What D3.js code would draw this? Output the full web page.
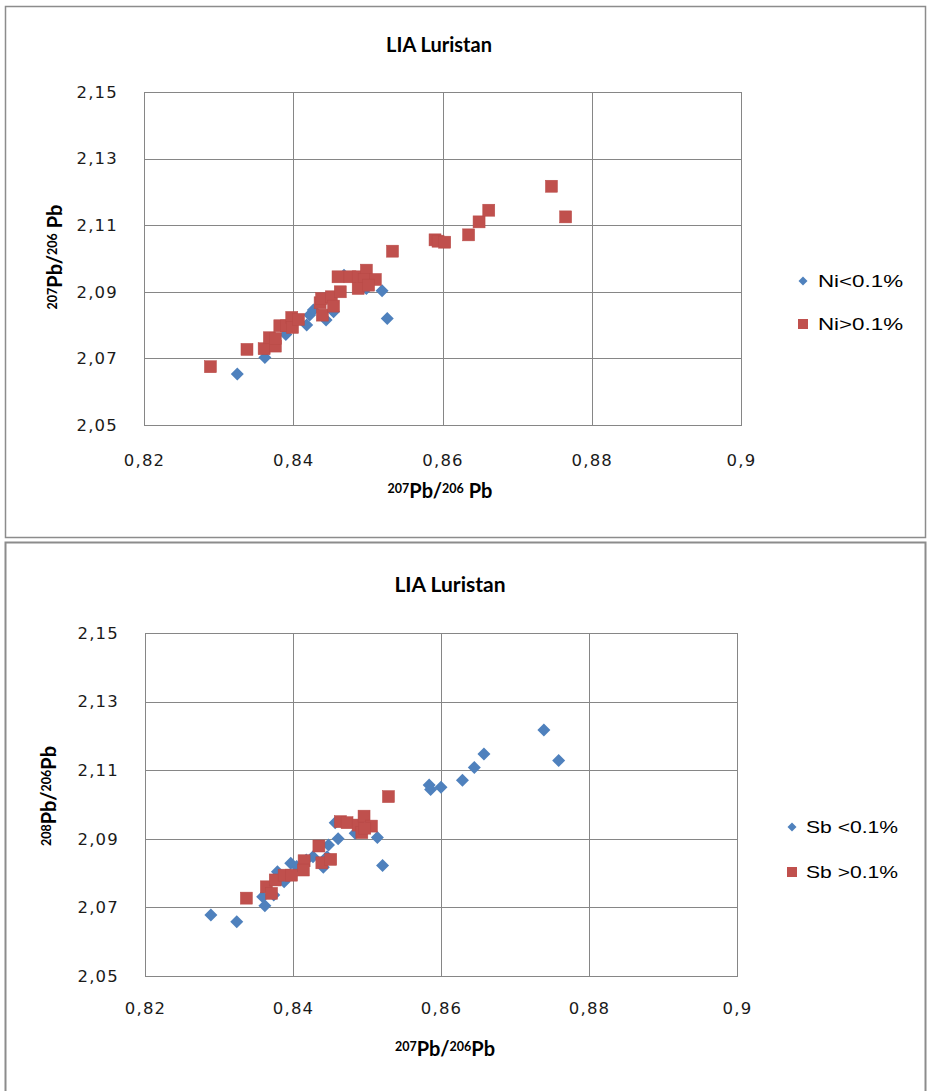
<!DOCTYPE html>
<html><head><meta charset="utf-8">
<script src="https://cdn.jsdelivr.net/npm/d3@7"></script>
<style>html,body{margin:0;padding:0;background:#fff;}svg{display:block;}</style>
</head><body>
<svg id="c" width="928" height="1091"></svg>
<script>
// ---- data ----
const xTicks = [0.82, 0.84, 0.86, 0.88, 0.9];
const yTicks = [2.05, 2.07, 2.09, 2.11, 2.13, 2.15];
const chartTitle = "LIA Luristan";

// Panel 1: Ni
const niLow = [
  [0.8325,2.0653],[0.8362,2.0703],[0.8390,2.0772],[0.8418,2.0800],[0.8422,2.0830],
  [0.8427,2.0845],[0.8444,2.0815],[0.8454,2.0840],[0.8468,2.0950],[0.8498,2.0910],
  [0.8519,2.0903],[0.8526,2.0820]
];
const niHigh = [
  [0.8289,2.0675],[0.8338,2.0727],[0.8361,2.0729],[0.8368,2.0762],[0.8376,2.0737],
  [0.8376,2.0760],[0.8382,2.0798],[0.8391,2.0798],[0.8398,2.0823],[0.8399,2.0793],
  [0.8407,2.0817],[0.8436,2.0867],[0.8439,2.0830],[0.8438,2.0880],[0.8451,2.0885],
  [0.8454,2.0857],[0.8463,2.0900],[0.8460,2.0945],[0.8476,2.0945],[0.8487,2.0945],
  [0.8498,2.0965],[0.8495,2.0937],[0.8510,2.0937],[0.8487,2.0910],[0.8501,2.0920],
  [0.8533,2.1022],[0.8590,2.1056],[0.8594,2.1052],[0.8603,2.1049],[0.8635,2.1071],
  [0.8649,2.1110],[0.8662,2.1145],[0.8746,2.1217],[0.8765,2.1125]
];

// Panel 2: Sb
const sbLow = [
  [0.8289,2.0678],[0.8324,2.0658],[0.8362,2.0705],[0.8359,2.0731],[0.8374,2.0736],
  [0.8379,2.0804],[0.8388,2.0775],[0.8397,2.0829],[0.8405,2.0819],[0.8418,2.0838],
  [0.8427,2.0848],[0.8441,2.0817],[0.8448,2.0882],[0.8446,2.0848],[0.8461,2.0900],
  [0.8457,2.0947],[0.8484,2.0916],[0.8514,2.0904],[0.8521,2.0822],[0.8584,2.1057],
  [0.8586,2.1044],[0.8600,2.1050],[0.8629,2.1071],[0.8645,2.1108],[0.8658,2.1147],
  [0.8739,2.1217],[0.8759,2.1128]
];
const sbHigh = [
  [0.8337,2.0727],[0.8364,2.0760],[0.8371,2.0741],[0.8376,2.0780],[0.8388,2.0794],
  [0.8398,2.0794],[0.8415,2.0836],[0.8414,2.0809],[0.8435,2.0879],[0.8439,2.0830],
  [0.8451,2.0840],[0.8464,2.0950],[0.8473,2.0947],[0.8488,2.0940],[0.8496,2.0966],
  [0.8506,2.0937],[0.8493,2.0918],[0.8497,2.0931],[0.8529,2.1023]
];

// ---- drawing ----
const BLUE = "#4F81BD", RED = "#C0504D", GRID = "#868686";
const svg = d3.select("#c");
const fmt = v => String(v).replace(".", ",");

function diamondPath(r){ return `M0,${-r}L${r},0L0,${r}L${-r},0Z`; }

function drawPanel(p){
  const g = svg.append("g");
  g.append("rect").attr("x",p.frame[0]).attr("y",p.frame[1]).attr("width",p.frame[2]).attr("height",p.frame[3])
    .attr("fill","#fff").attr("stroke","#8c8c8c").attr("stroke-width",p.frameW);
  const x = d3.scaleLinear().domain([0.82,0.9]).range([p.left,p.right]);
  const y = d3.scaleLinear().domain([2.05,2.15]).range([p.bottom,p.top]);

  g.append("g").selectAll("line").data(yTicks).join("line")
    .attr("x1",p.left).attr("x2",p.right).attr("y1",d=>Math.round(y(d))+0.5).attr("y2",d=>Math.round(y(d))+0.5)
    .attr("stroke",GRID).attr("stroke-width",1);
  g.append("g").selectAll("line").data(xTicks).join("line")
    .attr("y1",p.top).attr("y2",p.bottom).attr("x1",d=>Math.round(x(d))+0.5).attr("x2",d=>Math.round(x(d))+0.5)
    .attr("stroke",GRID).attr("stroke-width",1);
  g.append("rect").attr("x",p.left+0.5).attr("y",p.top+0.5).attr("width",p.right-p.left).attr("height",p.bottom-p.top)
    .attr("fill","none").attr("stroke",GRID);

  const ya = g.append("g").attr("transform",`translate(${p.left},0)`)
    .call(d3.axisLeft(y).tickValues(yTicks).tickFormat(fmt).tickSize(0).tickPadding(p.left-p.yLabRight));
  ya.select(".domain").remove();
  ya.selectAll("text").attr("font-family","DejaVu Sans").attr("font-size",16.5).attr("fill","#1a1a1a")
    .attr("letter-spacing","1.2px");
  const xa = g.append("g").attr("transform",`translate(0,${p.bottom})`)
    .call(d3.axisBottom(x).tickValues(xTicks).tickFormat(fmt).tickSize(0).tickPadding(p.xLabY-p.bottom-6));
  xa.select(".domain").remove();
  xa.selectAll("text").attr("font-family","DejaVu Sans").attr("font-size",16.5).attr("fill","#1a1a1a")
    .attr("letter-spacing","1.2px");

  g.append("text").attr("x",p.titleX).attr("y",p.titleY).attr("text-anchor","middle")
    .attr("font-family","Lato").attr("font-weight","bold").attr("font-size",p.titleSize).attr("fill","#000")
    .text(chartTitle);

  function richLabel(sel, parts){
    parts.forEach(pt=>{
      const t = sel.append("tspan").text(pt.t);
      if(pt.sup){ t.attr("font-size",12.5).attr("baseline-shift","38%"); }
      else t.attr("font-size",20);
    });
  }
  const xt = g.append("text").attr("x",p.xTitleX).attr("y",p.xTitleY).attr("text-anchor","middle")
    .attr("font-family","Lato").attr("font-weight","bold").attr("fill","#000");
  richLabel(xt, p.xTitle);
  const yt = g.append("text").attr("transform",`translate(${p.yTitleX},${p.yTitleY}) rotate(-90)`).attr("text-anchor","middle")
    .attr("font-family","Lato").attr("font-weight","bold").attr("fill","#000");
  richLabel(yt, p.yTitle);

  const pts = g.append("g");
  pts.selectAll("path.lo").data(p.low).join("path").attr("class","lo")
    .attr("d",diamondPath(6.5)).attr("transform",d=>`translate(${x(d[0])},${y(d[1])})`)
    .attr("fill",BLUE);
  pts.selectAll("rect.hi").data(p.high).join("rect").attr("class","hi")
    .attr("x",d=>x(d[0])-6).attr("y",d=>y(d[1])-6).attr("width",12).attr("height",12)
    .attr("fill",RED).attr("stroke","#b84a47").attr("stroke-width",0.5);

  const lg = g.append("g").attr("font-family","Liberation Sans").attr("font-size",17).attr("fill","#000");
  lg.append("path").attr("d",diamondPath(4.5)).attr("transform",`translate(${p.legX},${p.legY1})`).attr("fill",BLUE);
  lg.append("rect").attr("x",p.legX-5).attr("y",p.legY2-5).attr("width",10).attr("height",10).attr("fill",RED);
  lg.append("text").attr("x",p.legTX).attr("y",p.legY1+6).text(p.legText[0])
    .attr("textLength",p.legW).attr("lengthAdjust","spacingAndGlyphs");
  lg.append("text").attr("x",p.legTX).attr("y",p.legY2+6).text(p.legText[1])
    .attr("textLength",p.legW).attr("lengthAdjust","spacingAndGlyphs");
}

drawPanel({
  frame:[5.5,6.5,920,531], frameW:1.5,
  left:144, right:741, top:92, bottom:425,
  yLabRight:118, xLabY:460,
  titleX:439, titleY:52, titleSize:20,
  xTitleX:440, xTitleY:498,
  yTitleX:62, yTitleY:257,
  xTitle:[{t:"207",sup:true},{t:"Pb/"},{t:"206",sup:true},{t:" Pb"}],
  yTitle:[{t:"207",sup:true},{t:"Pb/"},{t:"206",sup:true},{t:" Pb"}],
  low:niLow, high:niHigh,
  legX:803, legY1:281, legY2:324, legTX:818, legW:85,
  legText:["Ni<0.1%","Ni>0.1%"]
});
drawPanel({
  frame:[5.5,542.5,920,560], frameW:2,
  left:145, right:737, top:633, bottom:976,
  yLabRight:119, xLabY:1008,
  titleX:450, titleY:592, titleSize:21,
  xTitleX:445, xTitleY:1056,
  yTitleX:56, yTitleY:796,
  xTitle:[{t:"207",sup:true},{t:"Pb/"},{t:"206",sup:true},{t:"Pb"}],
  yTitle:[{t:"208",sup:true},{t:"Pb/"},{t:"206",sup:true},{t:"Pb"}],
  low:sbLow, high:sbHigh,
  legX:792, legY1:827, legY2:872, legTX:806, legW:92,
  legText:["Sb <0.1%","Sb >0.1%"]
});
</script>
</body></html>
